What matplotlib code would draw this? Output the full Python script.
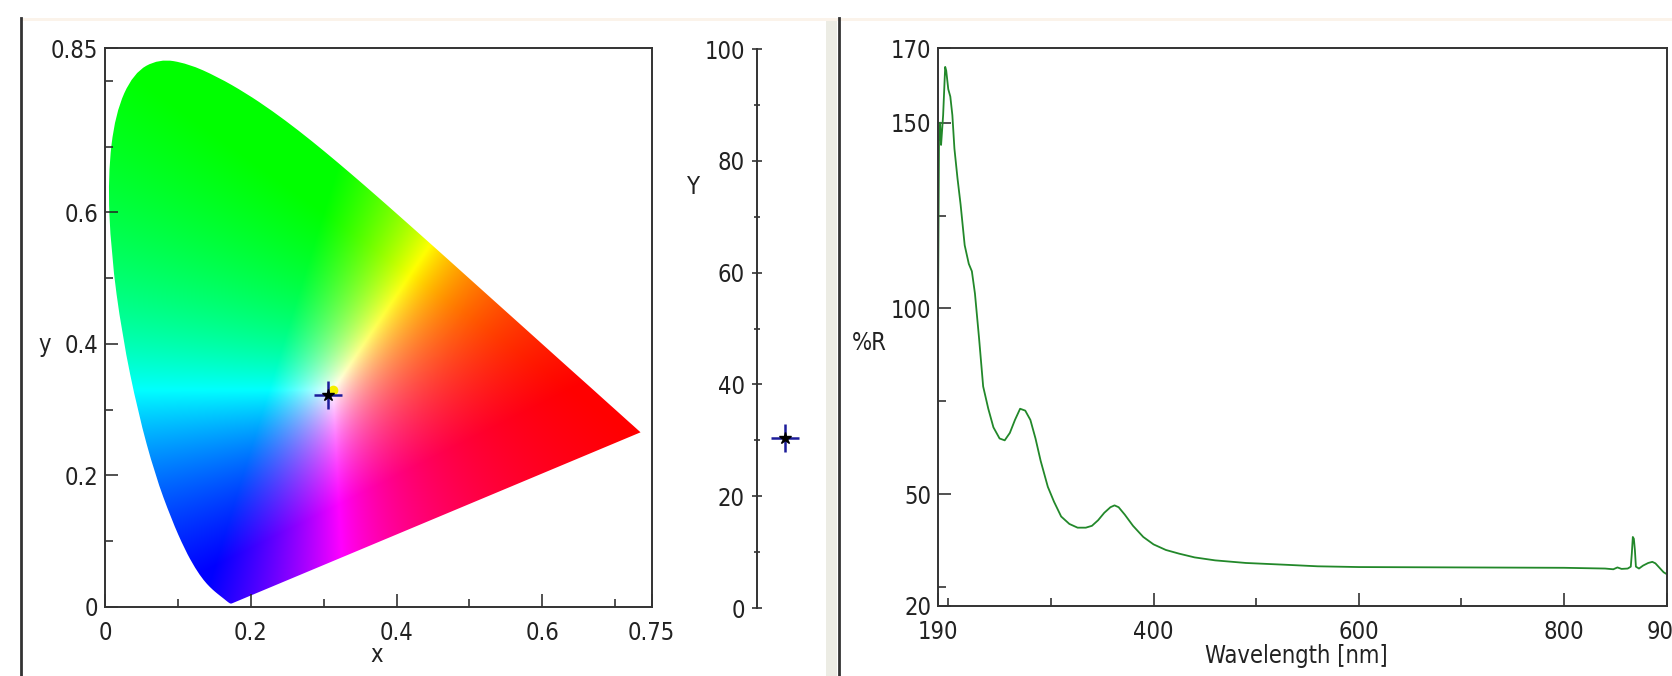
import numpy as np
import matplotlib.pyplot as plt
from matplotlib.path import Path
from matplotlib.patches import PathPatch, Rectangle
from matplotlib.lines import Line2D
from matplotlib.ticker import FixedLocator

plt.rcParams['font.family'] = ['DejaVu Sans']
plt.rcParams['font.stretch'] = 'condensed'

# CIE 1931 spectral locus (380..700 nm, 5 nm steps)
locus_x = [0.1741, 0.1740, 0.1738, 0.1736, 0.1733, 0.1730, 0.1726, 0.1721, 0.1714, 0.1703,
           0.1689, 0.1669, 0.1644, 0.1611, 0.1566, 0.1510, 0.1440, 0.1355, 0.1241, 0.1096,
           0.0913, 0.0687, 0.0454, 0.0235, 0.0082, 0.0039, 0.0139, 0.0389, 0.0743, 0.1142,
           0.1547, 0.1929, 0.2296, 0.2658, 0.3016, 0.3373, 0.3731, 0.4087, 0.4441, 0.4788,
           0.5125, 0.5448, 0.5752, 0.6029, 0.6270, 0.6482, 0.6658, 0.6801, 0.6915, 0.7006,
           0.7079, 0.7140, 0.7190, 0.7230, 0.7260, 0.7283, 0.7300, 0.7311, 0.7320, 0.7327,
           0.7334, 0.7340, 0.7344, 0.7346, 0.7347]
locus_y = [0.0050, 0.0050, 0.0049, 0.0049, 0.0048, 0.0048, 0.0048, 0.0048, 0.0051, 0.0058,
           0.0069, 0.0086, 0.0109, 0.0138, 0.0177, 0.0227, 0.0297, 0.0399, 0.0578, 0.0868,
           0.1327, 0.2007, 0.2950, 0.4127, 0.5384, 0.6548, 0.7502, 0.8120, 0.8338, 0.8262,
           0.8059, 0.7816, 0.7543, 0.7243, 0.6923, 0.6589, 0.6245, 0.5896, 0.5547, 0.5202,
           0.4866, 0.4544, 0.4242, 0.3965, 0.3725, 0.3514, 0.3340, 0.3197, 0.3083, 0.2993,
           0.2920, 0.2859, 0.2809, 0.2770, 0.2740, 0.2717, 0.2700, 0.2689, 0.2680, 0.2673,
           0.2666, 0.2660, 0.2656, 0.2654, 0.2653]

sample_x, sample_y = 0.306, 0.322
white_x, white_y = 0.3127, 0.3290
sample_Y = 30.5

wavelength = [190, 191, 192, 193, 194, 195, 197, 198, 200, 202, 204, 206, 209, 212, 216,
              220, 223, 226, 230, 234, 239, 244, 250, 255, 260, 265, 270, 275, 280, 285,
              290, 297, 303, 310, 318, 326, 334, 340, 346, 352, 358, 362, 366, 372, 380,
              390, 400, 412, 425, 440, 460, 490, 530, 560, 600, 700, 800, 840, 848, 852,
              856, 862, 865, 866, 867, 868, 869, 870, 873, 877, 882, 886, 889, 893, 897, 900]
reflectance = [98, 145, 150, 144, 148, 152, 165, 164, 159, 157, 152, 143, 135, 128, 117,
               112, 110, 104, 92, 79, 73, 68, 65, 64.5, 66.5, 70, 73, 72.5, 70, 65,
               59, 52, 48, 44, 42, 41, 41, 41.5, 43, 45, 46.5, 47, 46.5, 44.5, 41.5,
               38.5, 36.5, 35, 34, 33, 32.2, 31.5, 31, 30.6, 30.4, 30.3, 30.2, 30.0, 29.8, 30.3,
               29.9, 30.0, 30.5, 34, 38.5, 38, 35, 30.5, 30, 30.8, 31.5, 31.8, 31.4, 30.2, 29, 28.5]

W, H = 1672, 676
fig = plt.figure(figsize=(W / 100, H / 100), dpi=100)
fig.patch.set_facecolor('white')


def box(l, t, r, b):
    return [l / W, 1 - b / H, (r - l) / W, (b - t) / H]


def px(x, y):
    return x / W, 1 - y / H


# window decorations
fig.add_artist(Rectangle(px(21, 21), 1 - 21 / W, 3 / H, color='#fbf3ea', lw=0))
fig.add_artist(Rectangle(px(826, 676), 11 / W, 655 / H, color='#ecece4', lw=0))
fig.add_artist(Line2D([21 / W, 21 / W], [0, 1 - 18 / H], color='#333333', lw=2))
fig.add_artist(Line2D([839 / W, 839 / W], [0, 1 - 18 / H], color='#333333', lw=2))

tick_font = 17
txt_col = '#222222'
cross_col = '#1c1c9a'

# ---- chromaticity diagram ----
ax = fig.add_axes(box(105, 48, 651.7, 606.7))
gx = np.linspace(0, 0.75, 900)
gy = np.linspace(0.002, 0.85, 1000)
cx, cy = np.meshgrid(gx, gy)
X = cx / cy
Y = np.ones_like(cx)
Z = (1 - cx - cy) / cy
r = 3.2406 * X - 1.5372 * Y - 0.4986 * Z
g = -0.9689 * X + 1.8758 * Y + 0.0415 * Z
b = 0.0557 * X - 0.2040 * Y + 1.0570 * Z
rgb = np.clip(np.stack([r, g, b], axis=-1), 0, None)
rgb = rgb / np.maximum(rgb.max(axis=-1, keepdims=True), 1e-9)
im = ax.imshow(rgb, extent=[0, 0.75, 0.002, 0.85], origin='lower', aspect='auto',
               interpolation='bilinear')

# smooth outline through the locus points, closed by the purple line
pts = np.column_stack([locus_x, locus_y])
mids = (pts[:-1] + pts[1:]) / 2
verts = [pts[0], mids[0]]
codes = [Path.MOVETO, Path.LINETO]
for i in range(1, len(pts) - 1):
    verts += [pts[i], mids[i]]
    codes += [Path.CURVE3, Path.CURVE3]
verts += [pts[-1], pts[0]]
codes += [Path.LINETO, Path.CLOSEPOLY]
clip = PathPatch(Path(verts, codes), transform=ax.transData,
                 facecolor='none', edgecolor='none')
ax.add_patch(clip)
im.set_clip_path(clip)

ax.plot(white_x, white_y, 'o', color='#f5f000', ms=7, mec='none')
ax.plot(sample_x, sample_y, '+', color=cross_col, ms=20, mew=1.8)
ax.plot(sample_x, sample_y, '*', color='black', ms=9, mec='black')
ax.set_xlim(0, 0.75)
ax.set_ylim(0, 0.85)
ax.xaxis.set_major_locator(FixedLocator([0, 0.2, 0.4, 0.6, 0.75]))
ax.xaxis.set_minor_locator(FixedLocator([0.1, 0.3, 0.5, 0.7]))
ax.yaxis.set_major_locator(FixedLocator([0, 0.2, 0.4, 0.6, 0.85]))
ax.yaxis.set_minor_locator(FixedLocator([0.1, 0.3, 0.5, 0.7, 0.8]))
ax.set_xticklabels(['0', '0.2', '0.4', '0.6', '0.75'])
ax.set_yticklabels(['0', '0.2', '0.4', '0.6', '0.85'])

# ---- Y scale ----
axY = fig.add_axes(box(757, 49, 817, 608))
axY.plot(0.47, sample_Y, '+', color=cross_col, ms=20, mew=1.8)
axY.plot(0.47, sample_Y, '*', color='black', ms=9, mec='black')
axY.set_xlim(0, 1)
axY.set_ylim(0, 100)
axY.set_yticks([0, 20, 40, 60, 80, 100])
axY.set_yticks([10, 30, 50, 70, 90], minor=True)
axY.set_xticks([])
for s in ['top', 'right', 'bottom']:
    axY.spines[s].set_visible(False)
axY.patch.set_alpha(0)

# ---- reflectance spectrum ----
axR = fig.add_axes(box(938, 48.3, 1666.7, 605.7))
axR.plot(wavelength, reflectance, color='#22882a', lw=1.3)
axR.set_xlim(190, 900)
axR.set_ylim(20, 170)
axR.xaxis.set_major_locator(FixedLocator([190, 400, 600, 800, 900]))
axR.xaxis.set_minor_locator(FixedLocator([200, 300, 500, 700]))
axR.yaxis.set_major_locator(FixedLocator([20, 50, 100, 150, 170]))
axR.yaxis.set_minor_locator(FixedLocator([25, 75, 125]))

for a in (ax, axR):
    a.tick_params(which='major', direction='in', length=9.5, width=1.1, color='#222222',
                  labelsize=tick_font, labelcolor=txt_col)
    a.tick_params(which='minor', direction='in', length=5.5, width=1.1, color='#222222')
    a.tick_params(axis='x', which='major', pad=10)
    a.tick_params(axis='y', which='major', pad=5)
    for s in a.spines.values():
        s.set_linewidth(1.4)
        s.set_color('#333333')

axY.tick_params(which='major', direction='inout', length=7.5, width=1.1, color='#222222',
                labelsize=tick_font, labelcolor=txt_col, pad=5)
axY.tick_params(which='minor', direction='inout', length=5, width=1.1, color='#222222')
axY.spines['left'].set_linewidth(1.4)
axY.spines['left'].set_color('#333333')

# axis titles
fig.text(*px(45, 345), 'y', fontsize=tick_font, color=txt_col, ha='center', va='center')
fig.text(*px(377, 655), 'x', fontsize=tick_font, color=txt_col, ha='center', va='center')
fig.text(*px(693, 187), 'Y', fontsize=tick_font, color=txt_col, ha='center', va='center')
fig.text(*px(869, 343), '%R', fontsize=tick_font, color=txt_col, ha='center', va='center')
fig.text(*px(1296, 656), 'Wavelength [nm]', fontsize=tick_font, color=txt_col,
         ha='center', va='center')

fig.savefig('out.png', dpi=100)
